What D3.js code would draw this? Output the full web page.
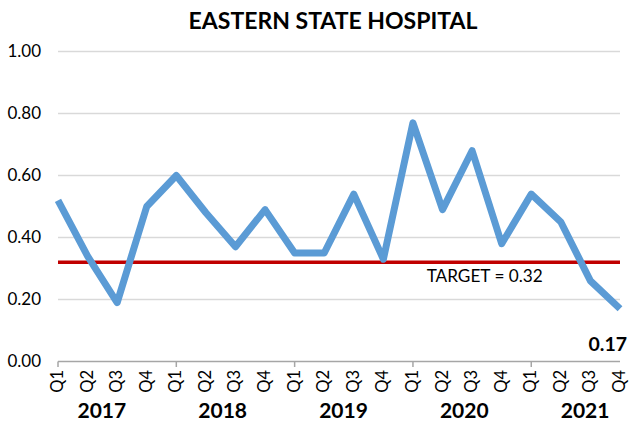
<!DOCTYPE html>
<html>
<head>
<meta charset="utf-8">
<script src="https://cdn.jsdelivr.net/npm/d3@7"></script>
<style>
  html, body { margin: 0; padding: 0; background: #fff; }
  svg { display: block; font-family: Lato, "Open Sans", sans-serif; }
</style>
</head>
<body>
<svg id="chart" width="629" height="426"></svg>
<script>
const title = "EASTERN STATE HOSPITAL";
const years = ["2017", "2018", "2019", "2020", "2021"];
const quarters = ["Q1", "Q2", "Q3", "Q4"];
const values = [
  0.52, 0.34, 0.19, 0.50,
  0.60, 0.48, 0.37, 0.49,
  0.35, 0.35, 0.54, 0.33,
  0.77, 0.49, 0.68, 0.38,
  0.54, 0.45, 0.26, 0.17
];
const target = 0.32;
const targetLabel = "TARGET = 0.32";
const yTicks = [0, 0.2, 0.4, 0.6, 0.8, 1.0];

const categories = [];
years.forEach(y => quarters.forEach(q => categories.push(y + " " + q)));
const data = categories.map((c, i) => ({ key: c, year: c.split(" ")[0], q: c.split(" ")[1], v: values[i] }));

const svg = d3.select("#chart");
const margin = { left: 58, right: 9, top: 51.5, bottom: 64.5 };
const W = 629, H = 426;

const x = d3.scalePoint().domain(categories).range([margin.left, W - margin.right]);
const y = d3.scaleLinear().domain([0, 1]).range([H - margin.bottom, margin.top]);

// gridlines
svg.append("g").selectAll("line").data(yTicks.filter(t => t > 0)).join("line")
  .attr("x1", margin.left).attr("x2", W - margin.right)
  .attr("y1", d => y(d)).attr("y2", d => y(d))
  .attr("stroke", "#D9D9D9").attr("stroke-width", 1.5);

// y axis labels
const yAxis = d3.axisLeft(y).tickValues(yTicks).tickFormat(d3.format(".2f")).tickSize(0).tickPadding(17);
const gy = svg.append("g").attr("transform", `translate(${margin.left},0)`).call(yAxis);
gy.select(".domain").remove();
gy.selectAll("text").attr("font-family", "Lato").attr("font-size", 17).attr("fill", "#000");

// x axis
const gx = svg.append("g").attr("transform", `translate(0,${y(0)})`);
gx.append("line").attr("x1", margin.left).attr("x2", W - margin.right)
  .attr("y1", 0).attr("y2", 0).attr("stroke", "#A6A6A6").attr("stroke-width", 1.5);
gx.selectAll("line.tick").data(data.filter((d, i) => i % 4 === 0)).join("line")
  .attr("class", "tick")
  .attr("x1", d => x(d.key)).attr("x2", d => x(d.key))
  .attr("y1", 0).attr("y2", 5.5)
  .attr("stroke", "#A6A6A6").attr("stroke-width", 1.5);
gx.selectAll("text.q").data(data).join("text")
  .attr("class", "q")
  .attr("transform", d => `translate(${x(d.key) - 1},8.5) rotate(-90)`)
  .attr("text-anchor", "end")
  .attr("dominant-baseline", "central")
  .attr("font-family", "Lato").attr("font-size", 16.5).attr("fill", "#000")
  .text(d => d.q);
gx.selectAll("text.year").data(years).join("text")
  .attr("class", "year")
  .attr("x", (yr, k) => d3.mean(quarters, q => x(yr + " " + q)) + 2 + (k - 1) * 2.5)
  .attr("y", 56.8)
  .attr("text-anchor", "middle")
  .attr("font-family", "Lato").attr("font-weight", "bold").attr("font-size", 21).attr("fill", "#000")
  .text(yr => yr);

// target line
svg.append("line")
  .attr("x1", margin.left).attr("x2", W - margin.right)
  .attr("y1", y(target)).attr("y2", y(target))
  .attr("stroke", "#C00000").attr("stroke-width", 3.5);
svg.append("text")
  .attr("x", x("2020 Q4") - 17).attr("y", y(target) + 20)
  .attr("text-anchor", "middle")
  .attr("font-family", "Lato").attr("font-size", 17.2).attr("fill", "#000")
  .text(targetLabel);

// data line
const line = d3.line().x(d => x(d.key)).y(d => y(d.v));
svg.append("path").datum(data)
  .attr("d", line)
  .attr("fill", "none")
  .attr("stroke", "#5B9BD5")
  .attr("stroke-width", 7)
  .attr("stroke-linejoin", "round");

// last value label
const last = data[data.length - 1];
svg.append("text")
  .attr("x", x(last.key) + 7).attr("y", y(0) - 10.5)
  .attr("text-anchor", "end")
  .attr("font-family", "Lato").attr("font-weight", "bold").attr("font-size", 19.5).attr("fill", "#000")
  .text(d3.format(".2f")(last.v));

// title
svg.append("text")
  .attr("x", 333).attr("y", 28.5)
  .attr("text-anchor", "middle")
  .attr("font-family", "Lato").attr("font-weight", "bold").attr("font-size", 23).attr("fill", "#000")
  .text(title);
</script>
</body>
</html>
